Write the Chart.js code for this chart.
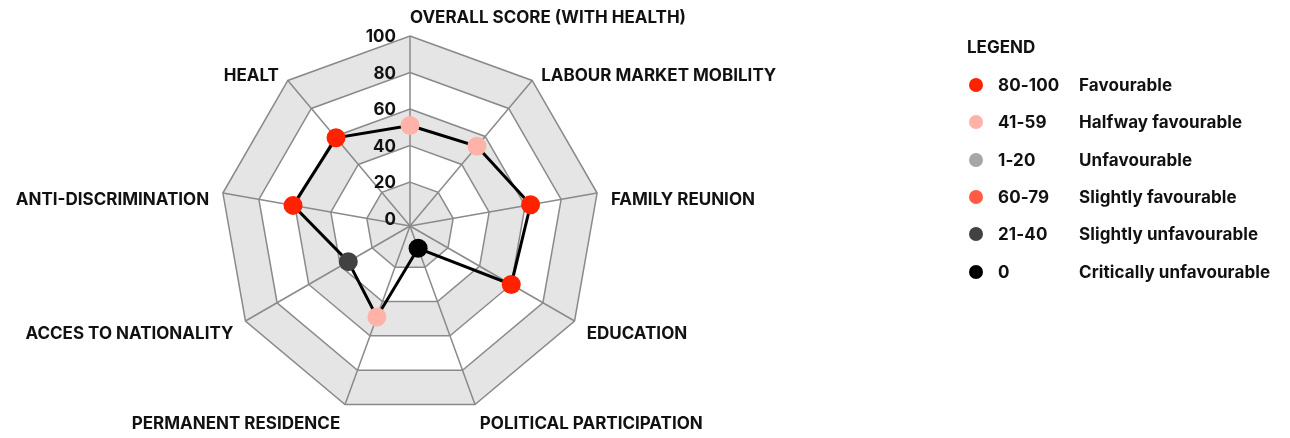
<!DOCTYPE html>
<html>
<head>
<meta charset="utf-8">
<script src="https://cdn.jsdelivr.net/npm/chart.js@4"></script>
<style>
  body { margin: 0; background: #fff; font-family: Inter, "Noto Sans", sans-serif; }
  .wrap { position: relative; width: 1290px; height: 438px; }
  .legend { position: absolute; left: 0; top: 0; }
  .legend_title { position: absolute; left: 967px; top: 37px; font-size: 17px; font-weight: 700; color: #111; }
  .legend_row { position: absolute; left: 0; height: 20px; font-size: 17px; font-weight: 700; color: #111; letter-spacing: 0.1px; }
  .legend_row .dot { position: absolute; left: 969px; top: 3px; width: 14px; height: 14px; border-radius: 50%; }
  .legend_row .range { position: absolute; left: 998px; top: 0; line-height: 20px; white-space: nowrap; }
  .legend_row .name { position: absolute; left: 1079px; top: 0; line-height: 20px; white-space: nowrap; }
</style>
</head>
<body>
<div class="wrap">
  <canvas id="myChart"></canvas>
  <div class="legend" id="legend"><div class="legend_title">LEGEND</div></div>
</div>
<script>
// данные
const categories = [
  "OVERALL SCORE (WITH HEALTH)",
  "LABOUR MARKET MOBILITY",
  "FAMILY REUNION",
  "EDUCATION",
  "POLITICAL PARTICIPATION",
  "PERMANENT RESIDENCE",
  "ACCES TO NATIONALITY",
  "ANTI-DISCRIMINATION",
  "HEALT",
];
const scores = [51, 53, 63, 60, 9, 49, 35, 61, 59];

const RED = "#ff2200";
const PINK = "#ffb3a8";
const GREY = "#a6a6a6";
const SALMON = "#ff5a45";
const DARK = "#424242";
const BLACK = "#000000";

const pointColours = [PINK, PINK, RED, RED, BLACK, PINK, DARK, RED, RED];
const tickValues = [0, 20, 40, 60, 80, 100];

const legendRanges = ["80-100", "41-59", "1-20", "60-79", "21-40", "0"];
const legendNames = [
  "Favourable",
  "Halfway favourable",
  "Unfavourable",
  "Slightly favourable",
  "Slightly unfavourable",
  "Critically unfavourable",
];
const legendColours = [RED, PINK, GREY, SALMON, DARK, BLACK];

// легенда
const legendBox = document.getElementById("legend");
legendRanges.forEach((range, i) => {
  const row = document.createElement("div");
  row.className = "legend_row";
  row.style.top = (75 + i * 37.3) + "px";

  const dot = document.createElement("div");
  dot.className = "dot";
  dot.style.background = legendColours[i];

  const rangeEl = document.createElement("div");
  rangeEl.className = "range";
  rangeEl.textContent = range;

  const nameEl = document.createElement("div");
  nameEl.className = "name";
  nameEl.textContent = legendNames[i];

  row.appendChild(dot);
  row.appendChild(rangeEl);
  row.appendChild(nameEl);
  legendBox.appendChild(row);
});

const FONT = "Inter, 'Noto Sans', sans-serif";

// серые полосы между кольцами
const bandsPlugin = {
  id: "bands",
  beforeDraw(chart) {
    const scale = chart.scales.r;
    const ctx = chart.ctx;
    const n = chart.data.labels.length;
    const ring = (value) => {
      const d = scale.getDistanceFromCenterForValue(value);
      for (let i = 0; i < n; i++) {
        const p = scale.getPointPosition(i, d);
        if (i === 0) ctx.moveTo(p.x, p.y);
        else ctx.lineTo(p.x, p.y);
      }
      ctx.closePath();
    };
    ctx.save();
    ctx.fillStyle = "#e5e5e5";
    [[null, 20], [40, 60], [80, 100]].forEach(([inner, outer]) => {
      ctx.beginPath();
      ring(outer);
      if (inner !== null) ring(inner);
      ctx.fill("evenodd");
    });
    ctx.restore();
  },
};

// подписи осей и тиков
const labelsPlugin = {
  id: "labels",
  afterDraw(chart) {
    const scale = chart.scales.r;
    const ctx = chart.ctx;
    const outer = scale.getDistanceFromCenterForValue(100);
    ctx.save();
    ctx.fillStyle = "#111";
    ctx.font = "700 17px " + FONT;
    ctx.textBaseline = "middle";

    tickValues.forEach((v) => {
      const d = scale.getDistanceFromCenterForValue(v);
      ctx.textAlign = "right";
      ctx.fillText(String(v), scale.xCenter - 14, scale.yCenter - d + 1);
    });

    chart.data.labels.forEach((label, i) => {
      const p = scale.getPointPosition(i, outer + 14);
      const angle = (360 / chart.data.labels.length) * i;
      if (angle === 0) {
        ctx.textAlign = "left";
        ctx.fillText(label, scale.xCenter, p.y - 4);
      } else {
        ctx.textAlign = angle < 180 ? "left" : "right";
        const dy = Math.abs(Math.sin((angle * Math.PI) / 180)) > 0.9 ? 9 : 6;
        ctx.fillText(label, p.x, p.y + dy);
      }
    });
    ctx.restore();
  },
};

const ctx = document.getElementById("myChart").getContext("2d");
new Chart(ctx, {
  type: "radar",
  plugins: [bandsPlugin, labelsPlugin],
  data: {
    labels: categories,
    datasets: [
      {
        label: "Score",
        data: scores,
        borderColor: "#000",
        borderWidth: 3,
        fill: false,
        tension: 0,
        pointRadius: 9.5,
        pointHoverRadius: 9.5,
        pointBorderWidth: 0,
        pointBackgroundColor: pointColours,
        pointBorderColor: pointColours,
      },
    ],
  },
  options: {
    responsive: true,
    maintainAspectRatio: false,
    animation: false,
    layout: {
      padding: { left: 220, right: 690, top: 36, bottom: 22 },
    },
    plugins: {
      legend: { display: false },
      tooltip: { enabled: false },
    },
    scales: {
      r: {
        min: -4,
        max: 100,
        afterBuildTicks: (scale) => {
          scale.ticks = tickValues.map((v) => ({ value: v }));
        },
        ticks: { display: false },
        pointLabels: { display: false },
        grid: {
          color: (c) => (c.tick && c.tick.value === 0 ? "rgba(0,0,0,0)" : "#8a8a8a"),
          lineWidth: 1.5,
        },
        angleLines: { color: "#8a8a8a", lineWidth: 1.5 },
      },
    },
  },
});
</script>
</body>
</html>
